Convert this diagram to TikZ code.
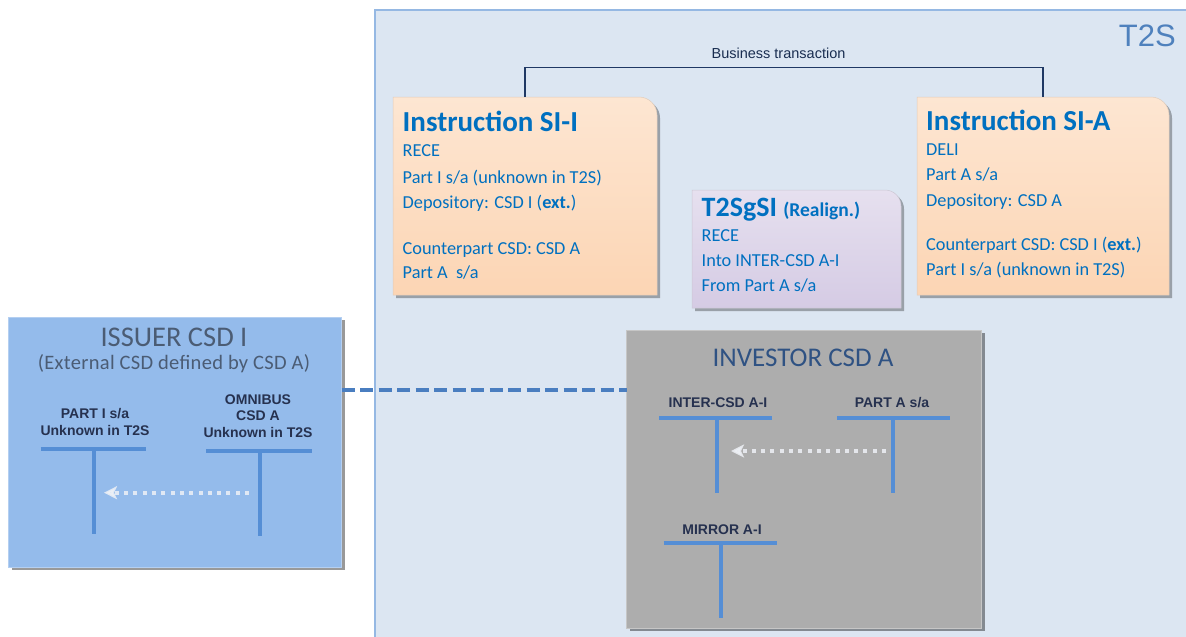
\documentclass[tikz,border=0pt]{standalone}
\usepackage{fontspec}
\setmainfont{Carlito}
\newfontfamily\arialf{Liberation Sans}
\usetikzlibrary{shadows,arrows.meta,calc}
\definecolor{t2sbg}{HTML}{DCE6F2}
\definecolor{t2sborder}{HTML}{95B8E3}
\definecolor{t2sblue}{HTML}{4F81BD}
\definecolor{peach}{HTML}{FCD5B4}
\definecolor{peachtop}{HTML}{FDE6D2}
\definecolor{lav}{HTML}{D5CBE4}
\definecolor{lavtop}{HTML}{E6E0EF}
\definecolor{txtblue}{HTML}{0070C0}
\definecolor{issuerfill}{HTML}{94BBEB}
\definecolor{grayfill}{HTML}{ADADAD}
\definecolor{barblue}{HTML}{558ED5}
\definecolor{dashblue}{HTML}{4A7EC0}
\definecolor{issuertitle}{HTML}{4B5C74}
\definecolor{investortitle}{HTML}{2F5283}
\definecolor{acctxt}{HTML}{26314F}
\definecolor{btcol}{HTML}{1F3864}
\definecolor{dotcol}{HTML}{EEF1F6}
\newcommand\sititlefont{\bfseries\fontsize{29}{32}\selectfont}
\newcommand\sibodyfont{\fontsize{18.3}{21}\selectfont}
\newcommand\accfont{\arialf\bfseries\fontsize{14}{16.5}\selectfont}
\tikzset{
  frame/.style={anchor=north west, inner sep=0pt, outer sep=0pt},
  peachbox/.style={top color=peachtop, bottom color=peach, draw=peach!80!black!60, line width=0.5pt,
     drop shadow={shadow xshift=3pt, shadow yshift=-3pt, opacity=0.3, fill=black}},
  lavbox/.style={top color=lavtop, bottom color=lav, draw=lav!80!black!60, line width=0.5pt,
     drop shadow={shadow xshift=3pt, shadow yshift=-3pt, opacity=0.3, fill=black}},
  titletxt/.style={anchor=base west, inner sep=0pt, text=txtblue, font=\sititlefont},
  bodytxt/.style={anchor=base west, inner sep=0pt, text=txtblue, font=\sibodyfont},
  acctxtstyle/.style={anchor=base, inner sep=0pt, text=acctxt, font=\accfont, align=center},
  tbar/.style={draw=barblue, line width=4pt},
  movearrow/.style={draw=dotcol, opacity=0.85, line width=4pt, dash pattern=on 4pt off 5.3pt,
     -{Stealth[length=13pt,width=13pt,inset=3pt]}},
  dashline/.style={draw=dashblue, line width=4pt, dash pattern=on 13pt off 5.5pt},
  btline/.style={draw=btcol, line width=1.2pt}
}
\begin{document}
\begin{tikzpicture}[x=1pt,y=1pt]
\useasboundingbox (0,0) rectangle (1186,-637);
\fill[white] (0,0) rectangle (1186,-637);
% T2S region
\node[frame, fill=t2sbg, draw=t2sborder, line width=2pt, minimum width=830pt, minimum height=650pt] (t2s) at (375,-10) {};
\node[anchor=base east, inner sep=0pt, text=t2sblue, font=\arialf\fontsize{31}{34}\selectfont] (t2slabel) at (1176,-46.7) {T2S};

% Instruction SI-I
\node[frame, minimum width=264pt, minimum height=198pt] (siI) at (393,-97) {};
\path[peachbox] (siI.south west) -- (siI.north west) -- ([xshift=-18pt]siI.north east)
   arc[start angle=90, end angle=0, radius=18pt] -- (siI.south east) -- cycle;
\node[titletxt] (siIt) at (402.5,-131.7) {Instruction SI-I};
\node[bodytxt] (siI1) at (402.5,-156.7) {RECE};
\node[bodytxt] (siI2) at (402.5,-183) {Part I s/a (unknown in T2S)};
\node[bodytxt] (siI3) at (402.5,-208.3) {Depository: CSD I (\textbf{ext.})};
\node[bodytxt] (siI4) at (402.5,-254.3) {Counterpart CSD: CSD A};
\node[bodytxt] (siI5) at (402.5,-278.3) {Part A\ \ s/a};

% Instruction SI-A
\node[frame, minimum width=252pt, minimum height=198pt] (siA) at (917,-97) {};
\path[peachbox] (siA.south west) -- (siA.north west) -- ([xshift=-18pt]siA.north east)
   arc[start angle=90, end angle=0, radius=18pt] -- (siA.south east) -- cycle;
\node[titletxt] (siAt) at (926,-130) {Instruction SI-A};
\node[bodytxt] (siA1) at (926,-155.5) {DELI};
\node[bodytxt] (siA2) at (926,-180.7) {Part A s/a};
\node[bodytxt] (siA3) at (926,-206.7) {Depository: CSD A};
\node[bodytxt] (siA4) at (926,-250.5) {Counterpart CSD: CSD I (\textbf{ext.})};
\node[bodytxt] (siA5) at (926,-275.5) {Part I s/a (unknown in T2S)};

% Business transaction connector
\coordinate (bt) at (0,-67.5);
\draw[btline] (siI.north) |- (bt -| siA.north) -- (siA.north);
\node[anchor=base, inner sep=0pt, text=btcol!80!black, font=\arialf\fontsize{14.5}{16}\selectfont] (btlabel) at (778.5,-58) {Business transaction};

% T2SgSI
\node[frame, minimum width=209pt, minimum height=118pt] (gsi) at (692,-190) {};
\path[lavbox] (gsi.south west) -- (gsi.north west) -- ([xshift=-16pt]gsi.north east)
   arc[start angle=90, end angle=0, radius=16pt] -- (gsi.south east) -- cycle;
\node[anchor=base west, inner sep=0pt, text=txtblue, font=\bfseries\fontsize{28}{30}\selectfont] (gsit) at (701.5,-216.7) {T2SgSI {\fontsize{19.5}{21}\selectfont (Realign.)}};
\node[bodytxt] (gsi1) at (701.5,-241.7) {RECE};
\node[bodytxt] (gsi2) at (701.5,-266) {Into INTER-CSD A-I};
\node[bodytxt] (gsi3) at (701.5,-291.7) {From Part A s/a};

% Issuer CSD I
\node[frame, fill=issuerfill, draw=issuerfill!70!white, line width=1pt, minimum width=333pt, minimum height=250pt,
  drop shadow={shadow xshift=3pt, shadow yshift=-3pt, opacity=0.4, fill=black}] (issuer) at (8.5,-317) {};
\node[anchor=base, inner sep=0pt, text=issuertitle, font=\fontsize{28.5}{31}\selectfont] (issuert) at (174,-346.7) {ISSUER CSD I};
\node[anchor=base, inner sep=0pt, text=issuertitle, font=\fontsize{20.5}{23}\selectfont\addfontfeature{LetterSpace=1.5}] (issuers) at (174,-369) {(External CSD defined by CSD A)};
\node[acctxtstyle] (pIlab) at (95,-435) {PART I s/a\\Unknown in T2S};
\node[acctxtstyle] (omlab) at (258,-437) {OMNIBUS\\CSD A\\Unknown in T2S};
\coordinate (pIl) at (40.5,-448.7); \coordinate (pIr) at (146,-448.7);
\coordinate (pIt) at (94,-448.7);   \coordinate (pIb) at (94,-534);
\draw[tbar] (pIl) -- (pIr); \draw[tbar] (pIt) -- (pIb);
\coordinate (oml) at (206,-451); \coordinate (omr) at (311.5,-451);
\coordinate (omt) at (259.5,-451); \coordinate (omb) at (259.5,-535.5);
\draw[tbar] (oml) -- (omr); \draw[tbar] (omt) -- (omb);
\coordinate (a1s) at (249,-492.7); \coordinate (a1e) at (104,-492.7);
\draw[movearrow] (a1s) -- (a1e);

% Investor CSD A
\node[frame, fill=grayfill, draw=grayfill!70!white, line width=1pt, minimum width=355pt, minimum height=298pt,
  drop shadow={shadow xshift=3pt, shadow yshift=-3pt, opacity=0.4, fill=black}] (investor) at (626.5,-330) {};
\node[anchor=base, inner sep=0pt, text=investortitle, font=\fontsize{27}{30}\selectfont] (investort) at (803,-366.7) {INVESTOR CSD A};
\node[acctxtstyle] (iclab) at (718,-407) {INTER-CSD A-I};
\node[acctxtstyle] (palab) at (892,-407) {PART A s/a};
\node[acctxtstyle] (mrlab) at (722,-534) {MIRROR A-I};
\coordinate (icl) at (659,-417.5); \coordinate (icr) at (772,-417.5);
\coordinate (ict) at (716.5,-417.5); \coordinate (icb) at (716.5,-493);
\draw[tbar] (icl) -- (icr); \draw[tbar] (ict) -- (icb);
\coordinate (pal) at (837,-417.5); \coordinate (par) at (950,-417.5);
\coordinate (pat) at (893,-417.5); \coordinate (pab) at (893,-493);
\draw[tbar] (pal) -- (par); \draw[tbar] (pat) -- (pab);
\coordinate (mrl) at (663.5,-543); \coordinate (mrr) at (777,-543);
\coordinate (mrt) at (721,-543); \coordinate (mrb) at (721,-618);
\draw[tbar] (mrl) -- (mrr); \draw[tbar] (mrt) -- (mrb);
\coordinate (a2s) at (886,-451); \coordinate (a2e) at (731,-451);
\draw[movearrow] (a2s) -- (a2e);

% Dashed link
\coordinate (dl) at (0,-389.5);
\draw[dashline] (issuer.east |- dl) -- (investor.west |- dl);
\end{tikzpicture}
\end{document}
